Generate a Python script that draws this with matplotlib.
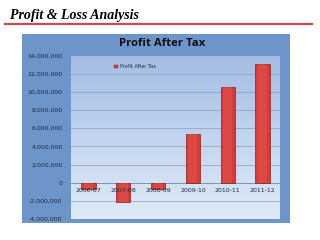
import matplotlib
matplotlib.use("Agg")
import matplotlib.pyplot as plt
import numpy as np
from matplotlib.patches import Rectangle
from matplotlib.lines import Line2D

years = ["2006-07", "2007-08", "2008-09", "2009-10", "2010-11", "2011-12"]
pat = [-700000, -2150000, -700000, 5400000, 10550000, 13100000]
yticks = list(range(-4000000, 14000001, 2000000))

fig = plt.figure(figsize=(3.2, 2.4), dpi=100)
fig.patch.set_facecolor("white")

# slide heading + red rule
fig.text(10 / 320, 1 - 15 / 240, "Profit & Loss Analysis", family="Liberation Serif",
         weight="bold", style="italic", fontsize=10, va="center", ha="left", color="black")
fig.add_artist(Line2D([5 / 320, 312 / 320], [1 - 24 / 240] * 2, color="#c0504d", lw=1.6))

# chart frame (blue)
fig.add_artist(Rectangle((22 / 320, 1 - 223 / 240), 268 / 320, 189 / 240,
                         transform=fig.transFigure, facecolor="#6e95c9", edgecolor="none", zorder=0))
fig.text(162 / 320, 1 - 44 / 240, "Profit After Tax", fontsize=8.2, weight="bold",
         ha="center", va="center", color="#111111", family="Open Sans")

ax = fig.add_axes([71 / 320, 1 - 219 / 240, 209 / 320, 163.5 / 240])
ax.set_zorder(1)

# gradient plot area, darker at top
t = np.linspace(0, 1, 256)[:, None, None]
top = np.array([0.64, 0.74, 0.90])
bot = np.array([0.88, 0.92, 0.97])
img = top + (bot - top) * t * np.ones((1, 1, 3))
ax.imshow(img, extent=[0, 1, 0, 1], transform=ax.transAxes, aspect="auto",
          origin="upper", zorder=0)

x = np.arange(len(years))
ax.bar(x, pat, width=0.41, color="#d63b37", edgecolor="#8c1f1c", linewidth=0.5, zorder=3)
# lighter centre to mimic bar shading
ax.bar(x, pat, width=0.26, color="#ea6660", linewidth=0, zorder=3.5, alpha=0.35)

ax.set_xlim(-0.5, len(years) - 0.5)
ax.set_ylim(-4000000, 14000000)
ax.set_yticks(yticks)
ax.set_yticklabels([f"{v:,}" for v in yticks])
ax.yaxis.grid(True, color="#8aa0bf", lw=0.5, zorder=1)
ax.set_axisbelow(True)
ax.axhline(0, color="#7f8fa8", lw=0.6, zorder=2)

ax.set_xticks([])
for i, lab in enumerate(years):
    ax.text(i, -550000, lab, ha="center", va="top", fontsize=4.5, color="#1f2a3a", zorder=4)

ax.tick_params(axis="y", length=0, labelsize=4.5, labelcolor="#1f2a3a", pad=6)
for s in ax.spines.values():
    s.set_visible(False)

# legend
ax.add_patch(Rectangle((0.205, 0.925), 0.018, 0.015, transform=ax.transAxes,
                       facecolor="#d63b37", edgecolor="#8c1f1c", lw=0.3, zorder=5))
ax.text(0.235, 0.932, "Profit After Tax", transform=ax.transAxes, fontsize=3.5,
        va="center", ha="left", color="#1f2a3a", zorder=5)

fig.savefig("out.png", dpi=100)
